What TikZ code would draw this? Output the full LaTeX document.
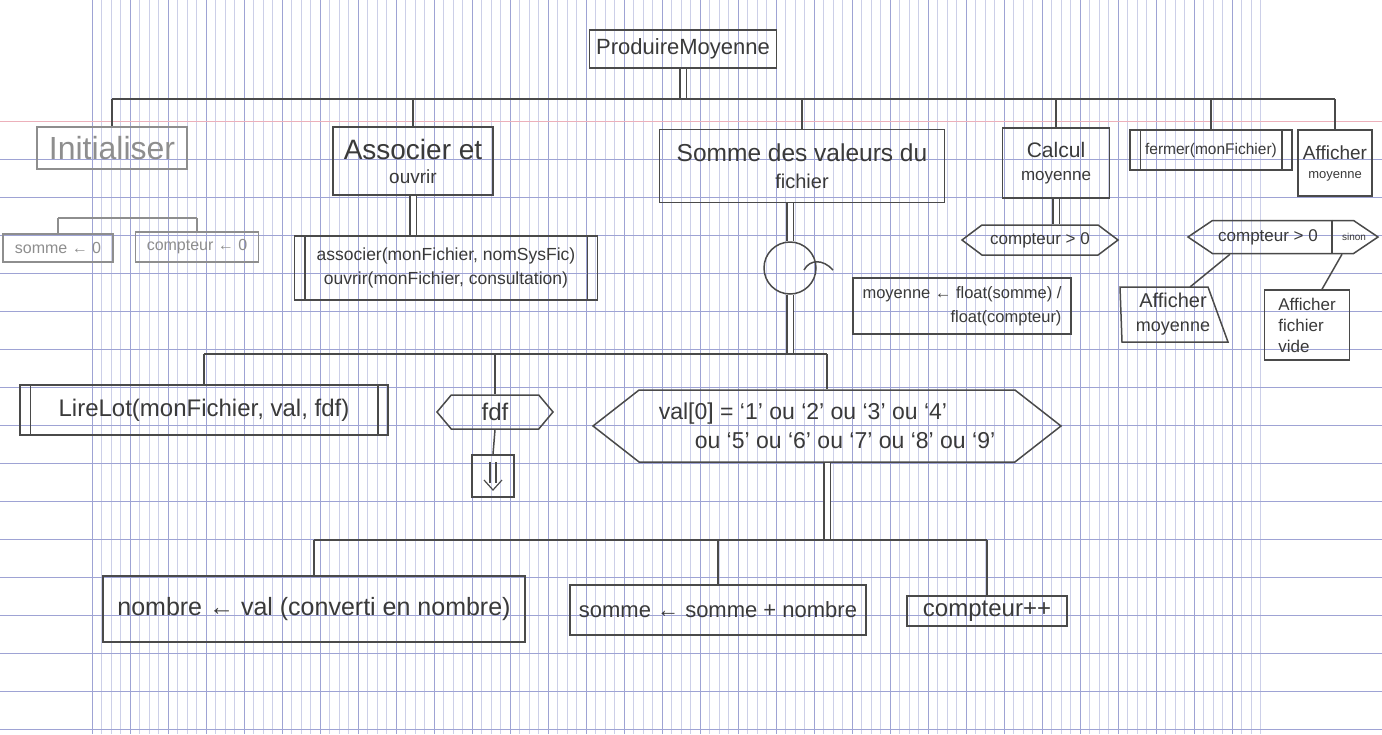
\documentclass[tikz,border=0pt]{standalone}
\usepackage{fontspec}
\setmainfont{Liberation Sans}
\usetikzlibrary{calc,shapes.symbols}

\definecolor{pencil}{HTML}{4A4A4A}
\definecolor{ink}{HTML}{3A3A3A}
\definecolor{faded}{HTML}{8E8E8E}
\definecolor{gridl}{RGB}{204,207,232}
\definecolor{gridd}{RGB}{158,163,212}
\definecolor{margin}{RGB}{236,176,186}

\newcommand\fsz[2]{\fontsize{#1}{#2}\selectfont}

\tikzset{
  box/.style={draw=pencil, line width=1.5pt, rectangle, inner sep=0pt, text=ink, align=center},
  fadedbox/.style={box, draw=faded, text=faded},
  procbox/.style={box, append after command={
      ([xshift=11pt]\tikzlastnode.north west) edge[draw=pencil, line width=1.5pt] ([xshift=11pt]\tikzlastnode.south west)
      ([xshift=-11pt]\tikzlastnode.north east) edge[draw=pencil, line width=1.5pt] ([xshift=-11pt]\tikzlastnode.south east)}},
  cond/.style={draw=pencil, line width=1.5pt, signal, signal to=east and west,
      signal pointer angle=80, inner sep=0pt, text=ink, align=center},
  link/.style={draw=pencil, line width=1.5pt},
  dbl/.style={draw=pencil, line width=1.3pt, double=white, double distance=5pt},
  dblfaded/.style={dbl, draw=faded},
}

\begin{document}
\begin{tikzpicture}[x=1pt, y=-1pt]
% squared paper
\fill[white] (0,0) rectangle (1382,734);
\useasboundingbox (0,0) rectangle (1382,734);
\foreach \j in {0,...,123}{
  \pgfmathtruncatemacro\m{mod(\j,4)}
  \ifnum\m=0 \def\gc{gridd}\else\def\gc{gridl}\fi
  \draw[\gc, line width=0.6pt] ({92+9.5*\j},0) -- ({92+9.5*\j},734);
}
\draw[margin, line width=0.8pt] (0,121) -- (1382,121);
\foreach \k in {1,...,16}
  \draw[gridd, line width=0.7pt] (0,{121+38*\k}) -- (1382,{121+38*\k});

% bus levels
\coordinate (topbus) at (0,99);
\coordinate (initbus) at (0,218);
\coordinate (midbus) at (0,354);
\coordinate (lowbus) at (0,540);
\coordinate (divx) at (1332,0);

% root
\node[box, minimum width=187pt, minimum height=38pt, font=\fsz{22}{26}] (root) at (683,49) {ProduireMoyenne};

% first level
\node[fadedbox, minimum width=150pt, minimum height=42pt, font=\fsz{32}{34}] (init) at (112,148) {Initialiser};
\node[box, minimum width=160pt, minimum height=68pt, font=\fsz{19}{24}] (assoc) at (413,161)
  {{\fsz{28}{30}Associer et}\\ouvrir};
\node[box, minimum width=285pt, minimum height=73pt, font=\fsz{20}{27}] (somme) at (802,166)
  {{\fsz{24.5}{28}Somme des valeurs du}\\fichier};
\node[box, minimum width=107pt, minimum height=70pt, font=\fsz{17}{23}] (calcul) at (1056,163)
  {{\fsz{21}{24}Calcul}\\moyenne};
\node[procbox, minimum width=162pt, minimum height=40pt, font=\fsz{15.5}{18}] (fermer) at (1211,150) {fermer(monFichier)};
\node[box, minimum width=74pt, minimum height=66pt, font=\fsz{13}{19}] (affmoy) at (1335,163)
  {{\fsz{19}{22}Afficher}\\moyenne};

\draw[dbl] (root.south) -- (root.south |- topbus);
\draw[link] (init.north |- topbus) -- (affmoy.north |- topbus);
\foreach \n in {init,assoc,somme,calcul,fermer,affmoy}
  \draw[link] (\n.north |- topbus) -- (\n.north);

% Initialiser
\node[fadedbox, minimum width=110pt, minimum height=28pt, font=\fsz{16}{18}] (s0) at (58,248) {somme ← 0};
\node[fadedbox, minimum width=123pt, minimum height=30pt, font=\fsz{16}{18}] (c0) at (197,247) {compteur ← 0};
\draw[dblfaded] ($(init.south)+(16,0)$) -- ($(init.south)+(16,0)$ |- initbus);
\draw[link, draw=faded] (s0.north |- initbus) -- (c0.north |- initbus);
\draw[link, draw=faded] (s0.north |- initbus) -- (s0.north);
\draw[link, draw=faded] (c0.north |- initbus) -- (c0.north);

% Associer et ouvrir
\node[procbox, minimum width=303pt, minimum height=64pt, font=\fsz{17.5}{24}] (ouvrir) at (446,268)
  {associer(monFichier, nomSysFic)\\ouvrir(monFichier, consultation)};
\draw[dbl] (assoc.south) -- (assoc.south |- ouvrir.north);

% loop over the file
\node[draw=pencil, line width=1.5pt, circle, minimum size=52pt, inner sep=0pt] (loop) at (790,268) {};
\draw[link] ($(loop.center)+(14,2)$) .. controls ($(loop.center)+(20,-9)$) and ($(loop.center)+(33,-9)$) .. ($(loop.center)+(43,2)$);
\draw[dbl] (somme.south -| loop.north) -- (loop.north);

\node[procbox, minimum width=368pt, minimum height=50pt, font=\fsz{24}{28}] (lire) at (204,410) {LireLot(monFichier, val, fdf)};
\node[cond, signal pointer angle=100, minimum width=116pt, minimum height=34pt, font=\fsz{24}{26}] (fdf) at (495,412) {fdf};
\node[box, minimum width=42pt, minimum height=42pt] (exitbox) at (493,476) {};
\node[cond, signal pointer angle=76, minimum width=468pt, minimum height=72pt, align=left, font=\fsz{23}{29}] (val) at (827,426)
  {val[0] = ‘1’ ou ‘2’ ou ‘3’ ou ‘4’\\\hspace*{36pt}ou ‘5’ ou ‘6’ ou ‘7’ ou ‘8’ ou ‘9’};

\draw[dbl] (loop.south) -- (loop.south |- midbus);
\draw[link] (lire.north |- midbus) -- (val.north |- midbus);
\draw[link] (lire.north |- midbus) -- (lire.north);
\draw[link] (fdf.north |- midbus) -- (fdf.north);
\draw[link] (val.north |- midbus) -- (val.north);
\draw[link] (fdf.south) -- (exitbox.north);
% exit arrow
\draw[link, line width=1.2pt] ($(exitbox.center)+(-3,-14)$) -- ($(exitbox.center)+(-3,7)$)
  ($(exitbox.center)+(3,-14)$) -- ($(exitbox.center)+(3,7)$);
\draw[link, line width=1.2pt] ($(exitbox.center)+(-9,4)$) -- ($(exitbox.center)+(0,14)$) -- ($(exitbox.center)+(9,4)$);

% digit branch
\node[box, minimum width=422pt, minimum height=66pt, font=\fsz{25}{28}] (nombre) at (314,609) {nombre ← val (converti en nombre)};
\node[box, minimum width=296pt, minimum height=50pt, font=\fsz{22}{26}] (sommeplus) at (718,610) {somme ← somme + nombre};
\node[box, minimum width=160pt, minimum height=30pt, font=\fsz{24}{26}] (cpp) at (987,611) {compteur++};
\draw[dbl] (val.south) -- (val.south |- lowbus);
\draw[link] (nombre.north |- lowbus) -- (cpp.north |- lowbus);
\foreach \n in {nombre,sommeplus,cpp}
  \draw[link] (\n.north |- lowbus) -- (\n.north);

% Calcul moyenne
\node[cond, signal pointer angle=74, minimum width=156pt, minimum height=30pt, font=\fsz{17}{20}] (cond1) at (1040,240) {compteur > 0};
\node[box, minimum width=218pt, minimum height=56pt, align=right, font=\fsz{16.5}{24}] (moyexpr) at (962,306)
  {moyenne ← float(somme) /\\float(compteur)};
\draw[dbl] (calcul.south) -- (calcul.south |- cond1.north);
\draw[link] ($(cond1.south)+(-16,0)$) -- ($(cond1.south)+(-16,0)$ |- moyexpr.north);

% Afficher moyenne
\node[cond, signal pointer angle=68, minimum width=190pt, minimum height=33pt, font=\fsz{17}{20}] (cond2) at (1283,237) {compteur > 0\hspace*{30pt}};
\node[text=ink, font=\fsz{10}{12}] (sinon) at (1354,237) {sinon};
\draw[link] (divx |- cond2.north) -- (divx |- cond2.south);
\draw[dbl] ($(affmoy.south)+(-8,0)$) -- ($(affmoy.south)+(-8,0)$ |- cond2.north);

\node[text=ink, align=center, inner sep=0pt, font=\fsz{18}{24}] (affm2) at (1173,314)
  {{\fsz{20}{22}Afficher}\\moyenne};
\draw[link] ($(affm2)+(-53,-27)$) -- ($(affm2)+(35,-27)$) -- ($(affm2)+(55,28)$) -- ($(affm2)+(-51,28)$) -- cycle;
\node[box, minimum width=85pt, minimum height=70pt, align=left, font=\fsz{17}{21}] (affvide) at (1307,325) {Afficher\\fichier\\vide};

\draw[link] ($(cond2.south)+(-53,0)$) -- ($(affm2)+(17,-27)$);
\draw[link] ($(cond2.south)+(59,0)$) -- ($(affvide.north)+(15,0)$);
\end{tikzpicture}
\end{document}
